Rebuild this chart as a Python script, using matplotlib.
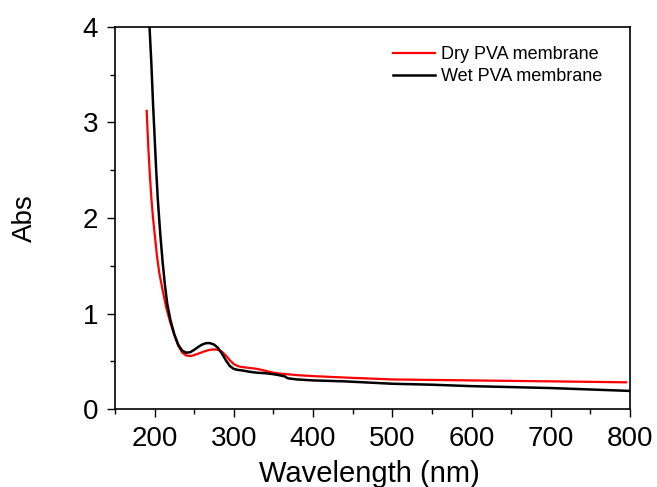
import matplotlib
matplotlib.use("Agg")
import matplotlib.pyplot as plt
from matplotlib.ticker import MultipleLocator

plt.rcParams['font.family'] = ['Liberation Sans', 'DejaVu Sans']

# Wet PVA membrane (black)
wet_wl = [193, 196, 198, 200, 202, 204, 207, 210, 213, 216, 220, 225, 230, 235,
          240, 245, 250, 255, 260, 265, 270, 275, 280, 285, 290, 295, 300, 305,
          310, 320, 330, 340, 350, 360, 365, 367, 370, 380, 400, 440, 500, 550,
          600, 650, 700, 750, 800]
wet_abs = [4.1, 3.6, 3.2, 2.85, 2.5, 2.2, 1.85, 1.55, 1.3, 1.1, 0.93, 0.78, 0.67, 0.61,
           0.59, 0.595, 0.62, 0.65, 0.675, 0.69, 0.69, 0.675, 0.64, 0.58, 0.51, 0.45, 0.42, 0.41,
           0.405, 0.39, 0.38, 0.375, 0.365, 0.35, 0.34, 0.325, 0.32, 0.31, 0.30, 0.29, 0.265, 0.255,
           0.24, 0.23, 0.22, 0.205, 0.19]

# Dry PVA membrane (red)
dry_wl = [190, 192, 194, 196, 198, 200, 203, 206, 210, 215, 220, 225, 230, 235,
          240, 245, 250, 255, 260, 265, 270, 275, 280, 285, 290, 295, 300, 305,
          310, 320, 330, 340, 350, 360, 380, 400, 440, 500, 550, 600, 650, 700, 750, 795]
dry_abs = [3.12, 2.75, 2.45, 2.2, 2.0, 1.84, 1.6, 1.42, 1.25, 1.05, 0.9, 0.77, 0.66, 0.59,
           0.56, 0.555, 0.565, 0.58, 0.595, 0.61, 0.62, 0.625, 0.62, 0.6, 0.56, 0.51, 0.47, 0.45,
           0.44, 0.43, 0.42, 0.40, 0.38, 0.37, 0.355, 0.345, 0.33, 0.31, 0.305, 0.30, 0.295, 0.29, 0.285, 0.28]

xticks = [200, 300, 400, 500, 600, 700, 800]
yticks = [0, 1, 2, 3, 4]

fig = plt.figure(figsize=(6.57, 4.87), dpi=100)
ax = fig.add_axes([0.175, 0.160, 0.784, 0.785])

ax.plot(dry_wl, dry_abs, color='#ff0000', lw=1.6, label='Dry PVA membrane')
ax.plot(wet_wl, wet_abs, color='black', lw=1.8, label='Wet PVA membrane')

ax.set_xlim(150, 800)
ax.set_ylim(0, 4)
ax.set_xticks(xticks)
ax.set_yticks(yticks)
ax.xaxis.set_minor_locator(MultipleLocator(50))
ax.yaxis.set_minor_locator(MultipleLocator(0.5))
ax.tick_params(which='major', direction='out', length=6, width=1, labelsize=20, pad=6)
ax.tick_params(which='minor', direction='out', length=3.5, width=1)
ax.tick_params(top=False, right=False)
for s in ax.spines.values():
    s.set_linewidth(1.2)

ax.set_xlabel('Wavelength (nm)', fontsize=21)
ax.set_ylabel('Abs', fontsize=20)
ax.xaxis.set_label_coords(0.494, -0.133)
ax.xaxis.label.set_va('top')
ax.yaxis.set_label_coords(-0.175, 0.5)
ax.yaxis.label.set_va('center')

ax.legend(loc='upper left', bbox_to_anchor=(0.540, 0.950), frameon=False,
          fontsize=13, handlelength=2.33, handletextpad=0.33, labelspacing=0.3,
          borderpad=0, borderaxespad=0)

fig.savefig('out.png', dpi=100)
